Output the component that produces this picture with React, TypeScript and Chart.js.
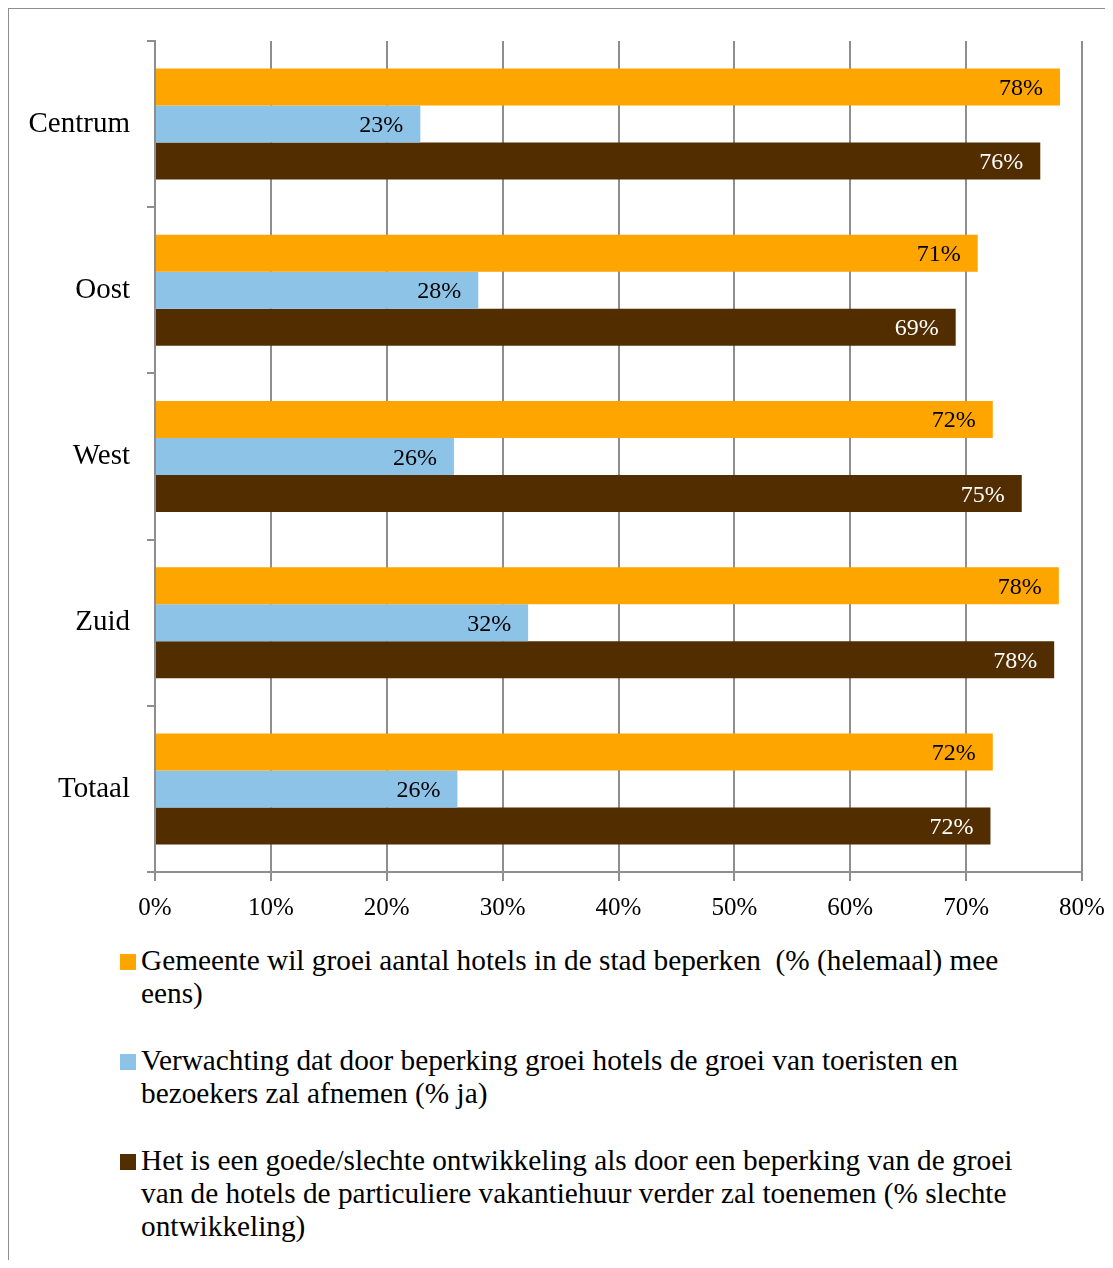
import React, { useEffect, useRef } from 'react';
import { Chart, registerables } from 'chart.js';

Chart.register(...registerables);

const categories = ['Centrum', 'Oost', 'West', 'Zuid', 'Totaal'];

const gemeenteValues = [78.1, 71.0, 72.3, 78.0, 72.3];
const verwachtingValues = [22.9, 27.9, 25.8, 32.2, 26.1];
const ontwikkelingValues = [76.4, 69.1, 74.8, 77.6, 72.1];

const seriesLabels = [
  'Gemeente wil groei aantal hotels in de stad beperken  (% (helemaal) mee eens)',
  'Verwachting dat door beperking groei hotels de groei van toeristen en bezoekers zal afnemen (% ja)',
  'Het is een goede/slechte ontwikkeling als door een beperking van de groei van de hotels de particuliere vakantiehuur verder zal toenemen (% slechte ontwikkeling)',
];

const legendLines = [
  ['Gemeente wil groei aantal hotels in de stad beperken\u00a0 (% (helemaal) mee', 'eens)'],
  ['Verwachting dat door beperking groei hotels de groei van toeristen en', 'bezoekers zal afnemen (% ja)'],
  ['Het is een goede/slechte ontwikkeling als door een beperking van de groei', 'van de hotels de particuliere vakantiehuur verder zal toenemen (% slechte', 'ontwikkeling)'],
];

const xTickValues = [0, 10, 20, 30, 40, 50, 60, 70, 80];

const seriesColors = ['#FFA500', '#8EC3E8', '#522D00'];
const labelColors = ['#000000', '#000000', '#FFFFFF'];

const FONT = "'Liberation Serif', serif";
const CAT_SIZE = 29;
const TICK_SIZE = 25;
const LABEL_SIZE = 24;
const LEGEND_SIZE = 29.3;
const GRID = '#8e8e8e';

const barLabelPlugin = {
  id: 'barLabels',
  afterDatasetsDraw(chart: any) {
    const ctx = chart.ctx;
    ctx.save();
    ctx.font = `${LABEL_SIZE}px ${FONT}`;
    ctx.textAlign = 'right';
    ctx.textBaseline = 'alphabetic';
    chart.data.datasets.forEach((ds: any, i: number) => {
      const meta = chart.getDatasetMeta(i);
      meta.data.forEach((bar: any, j: number) => {
        const v = ds.data[j] as number;
        ctx.fillStyle = labelColors[i];
        ctx.fillText(Math.round(v) + '%', bar.x - 17, bar.y + 8);
      });
    });
    ctx.restore();
  },
};

export default function App() {
  const ref = useRef<HTMLCanvasElement | null>(null);

  useEffect(() => {
    const canvas = ref.current!;
    const chart = new Chart(canvas, {
      type: 'bar',
      data: {
        labels: categories,
        datasets: [
          { label: seriesLabels[0], data: gemeenteValues, backgroundColor: seriesColors[0] },
          { label: seriesLabels[1], data: verwachtingValues, backgroundColor: seriesColors[1] },
          { label: seriesLabels[2], data: ontwikkelingValues, backgroundColor: seriesColors[2] },
        ],
      },
      options: {
        indexAxis: 'y',
        responsive: false,
        animation: false,
        devicePixelRatio: 1,
        layout: { padding: { top: 41, left: 0, right: 31, bottom: 0 } },
        datasets: { bar: { barPercentage: 1, categoryPercentage: 0.668 } },
        plugins: { legend: { display: false }, tooltip: { enabled: false } },
        scales: {
          x: {
            min: 0,
            max: 80,
            afterBuildTicks: (s: any) => {
              s.ticks = xTickValues.map((v) => ({ value: v }));
            },
            afterFit: (s: any) => {
              s.height = 68;
              s.paddingLeft = 0;
              s.paddingRight = 0;
            },
            ticks: {
              color: '#000',
              font: { family: FONT, size: TICK_SIZE },
              padding: 12,
              callback: (v: any) => v + '%',
            },
            grid: { color: GRID, lineWidth: 2, tickLength: 9, drawTicks: true },
            border: { color: GRID, width: 2 },
          },
          y: {
            afterFit: (s: any) => {
              s.width = 155;
              s.paddingTop = 0;
              s.paddingBottom = 0;
            },
            ticks: {
              color: '#000',
              font: { family: FONT, size: CAT_SIZE },
              padding: 17,
            },
            grid: { color: GRID, lineWidth: 2, tickLength: 8, drawOnChartArea: false, offset: true },
            border: { color: GRID, width: 2 },
          },
        },
      },
      plugins: [barLabelPlugin],
    });
    return () => chart.destroy();
  }, []);

  return (
    <div style={{ position: 'relative', margin: '-8px', width: 1113, height: 1268, overflow: 'hidden', background: '#fff' }}>
      <div
        style={{
          position: 'absolute',
          left: 7,
          top: 7,
          width: 1300,
          height: 1400,
          borderLeft: '2px solid #8e8e8e',
          borderTop: '2px solid #8e8e8e',
        }}
      />
      <canvas ref={ref} width={1113} height={940} style={{ position: 'absolute', left: 0, top: 0, width: 1113, height: 940 }} />
      <div style={{ position: 'absolute', left: 120, top: 944, fontFamily: FONT, fontSize: LEGEND_SIZE, color: '#000' }}>
        {legendLines.map((lines, i) => (
          <div key={i} style={{ display: 'flex', alignItems: 'flex-start', marginBottom: 34 }}>
            <div style={{ width: 16, height: 16, background: seriesColors[i], marginTop: 10, marginRight: 5, flex: 'none' }} />
            <div style={{ lineHeight: '33px', whiteSpace: 'nowrap' }}>
              {lines.map((l, k) => (
                <div key={k}>{l}</div>
              ))}
            </div>
          </div>
        ))}
      </div>
    </div>
  );
}
